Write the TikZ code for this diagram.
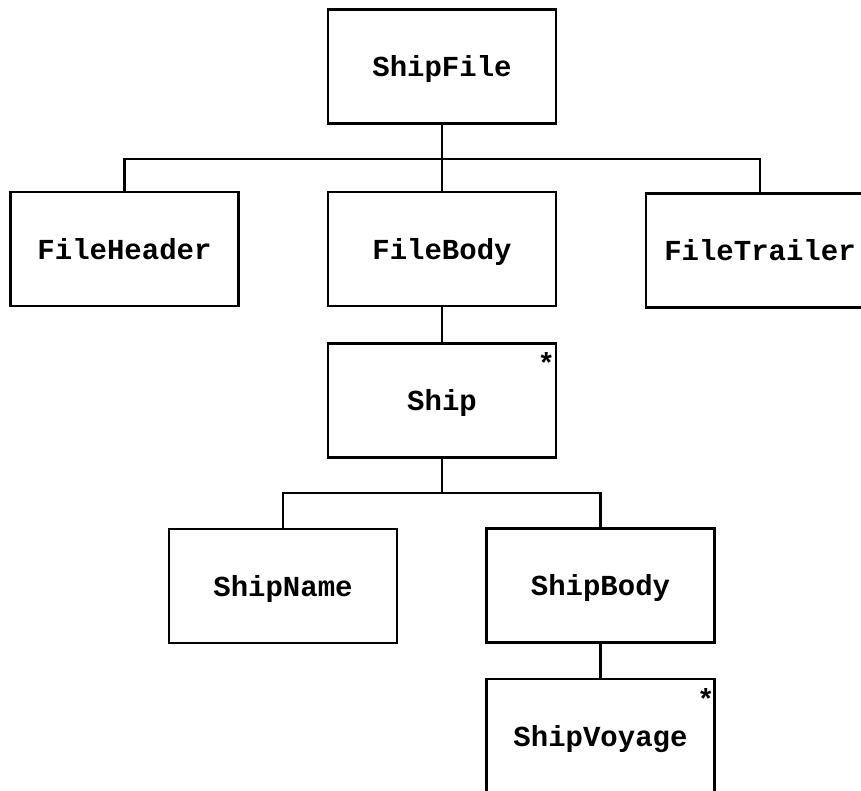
\documentclass[tikz,border=0pt]{standalone}
\usepackage{fontspec}
\setmonofont{Liberation Mono}
\usetikzlibrary{calc}
\begin{document}
\begin{tikzpicture}[x=1pt,y=-1pt,
  box/.style={draw, line width=2.6pt, minimum width=228pt, minimum height=114pt, inner sep=0pt,
    text height=25pt, text depth=4.5pt,
    font=\ttfamily\bfseries\fontsize{29}{29}\selectfont},
  conn/.style={line width=2.6pt},
  starnode/.style={inner sep=0pt, font=\ttfamily\bfseries\fontsize{29}{29}\selectfont}]
\clip (0,0) rectangle (861,791);
\fill[white] (0,0) rectangle (861,791);
\node[box] (shipfile) at (442,66.5) {ShipFile};
\node[box] (fileheader) at (124.5,249) {FileHeader};
\node[box] (filebody) at (442,249) {FileBody};
\node[box] (filetrailer) at (760,250.5) {FileTrailer};
\node[box] (ship) at (442,400.5) {Ship};
\node[box] (shipname) at (283,586) {ShipName};
\node[box] (shipbody) at (600.5,585.5) {ShipBody};
\node[box] (shipvoyage) at (600.5,736) {ShipVoyage};
\coordinate (bar1) at (442,159);
\coordinate (bar2) at (442,493);
\draw[conn] (shipfile.south) -- (filebody.north);
\draw[conn] (fileheader.north) -- (fileheader.north |- bar1) -- (filetrailer.north |- bar1) -- (filetrailer.north);
\draw[conn] (filebody.south) -- (ship.north);
\draw[conn] (ship.south) -- (bar2);
\draw[conn] (shipname.north) -- (shipname.north |- bar2) -- (shipbody.north |- bar2) -- (shipbody.north);
\draw[conn] (shipbody.south) -- (shipvoyage.north);
\node[starnode, anchor=center] (star1) at ($(ship.north east)+(-11,21)$) {*};
\node[starnode, anchor=center] (star2) at ($(shipvoyage.north east)+(-10,21)$) {*};
\end{tikzpicture}
\end{document}
